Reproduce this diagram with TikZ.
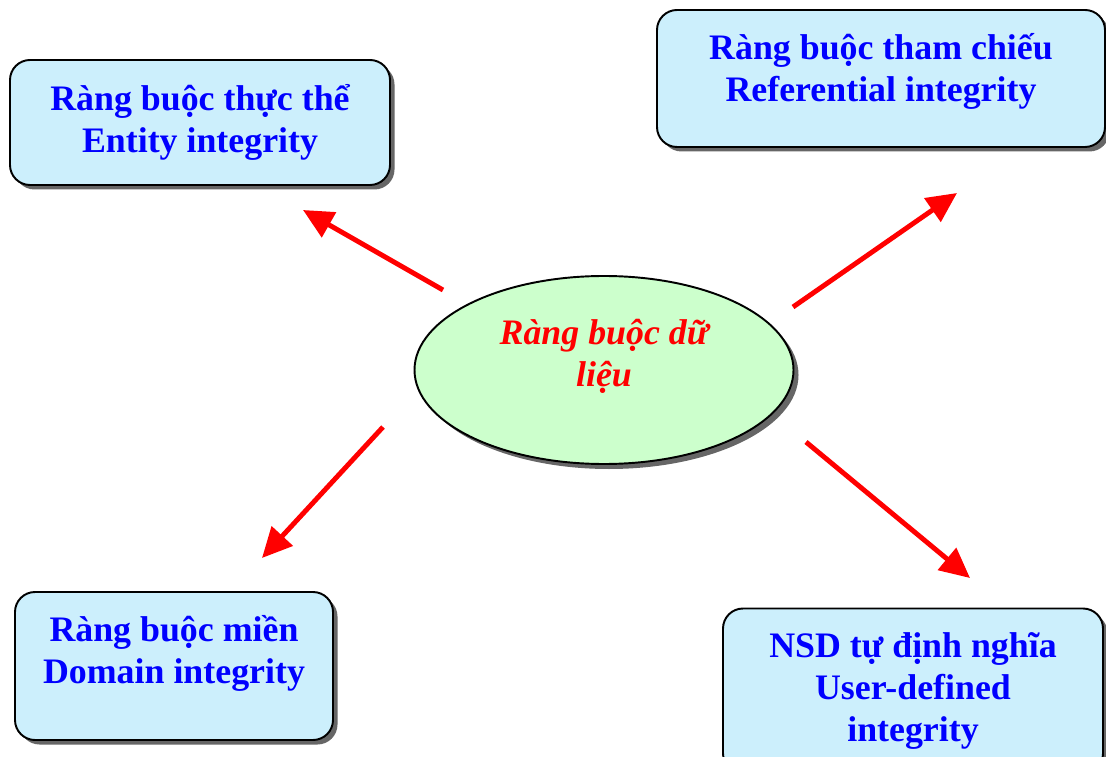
\documentclass[tikz,border=0pt]{standalone}
\usepackage{fontspec}
\setmainfont{Liberation Serif}
\usepackage{tikz}
\usetikzlibrary{arrows.meta,shapes.geometric,shadows}

\begin{document}
\begin{tikzpicture}[
    box/.style={draw=black, line width=1.1pt, rounded corners=0.4cm, fill=cyan!20,
        drop shadow={shadow xshift=0.09cm, shadow yshift=-0.09cm, fill=black!60, opacity=1}},
    boxtext/.style={align=center, text=blue, font=\fontsize{20.4}{23.9}\selectfont\bfseries},
    core/.style={ellipse, draw=black, line width=1.1pt, fill=green!20,
        minimum width=7.58cm, minimum height=3.76cm,
        drop shadow={shadow xshift=0.1cm, shadow yshift=-0.1cm, fill=black!60, opacity=1}},
    coretext/.style={align=center, text=red, font=\fontsize{20.4}{23.9}\selectfont\bfseries\itshape},
    link/.style={red, line width=2.8pt, -{Triangle[length=0.6cm,width=0.56cm]}}
]
    \useasboundingbox (0,0) rectangle (22.12,15.12);
    \clip (0,0) rectangle (22.12,15.12);

    % Center
    \node[core, label={[coretext, yshift=0.28cm]center:Ràng buộc dữ\\liệu}] (core) at (12.08,7.72) {};

    % Four kinds of constraint
    \node[box, minimum width=7.6cm, minimum height=2.5cm,
        label={[boxtext]center:Ràng buộc thực thể\\Entity integrity}] (entity) at (4.0,12.67) {};
    \node[box, minimum width=8.96cm, minimum height=2.74cm,
        label={[boxtext, yshift=0.15cm]center:Ràng buộc tham chiếu\\Referential integrity}] (refer) at (17.62,13.55) {};
    \node[box, minimum width=6.36cm, minimum height=2.96cm,
        label={[boxtext, yshift=0.26cm]center:Ràng buộc miền\\Domain integrity}] (domain) at (3.48,1.8) {};
    \node[box, minimum width=7.6cm, minimum height=3.3cm,
        label={[boxtext]center:NSD tự định nghĩa\\User-defined\\integrity}] (user) at (18.26,1.3) {};

    % Arrow ends
    \coordinate (entity-from) at (8.86,9.32);
    \coordinate (entity-to) at (6.06,10.92);
    \coordinate (refer-from) at (15.86,8.98);
    \coordinate (refer-to) at (19.14,11.26);
    \coordinate (domain-from) at (7.66,6.58);
    \coordinate (domain-to) at (5.24,3.96);
    \coordinate (user-from) at (16.12,6.28);
    \coordinate (user-to) at (19.4,3.56);

    % Arrows
    \draw[link] (entity-from) -- (entity-to);
    \draw[link] (refer-from) -- (refer-to);
    \draw[link] (domain-from) -- (domain-to);
    \draw[link] (user-from) -- (user-to);
\end{tikzpicture}
\end{document}
